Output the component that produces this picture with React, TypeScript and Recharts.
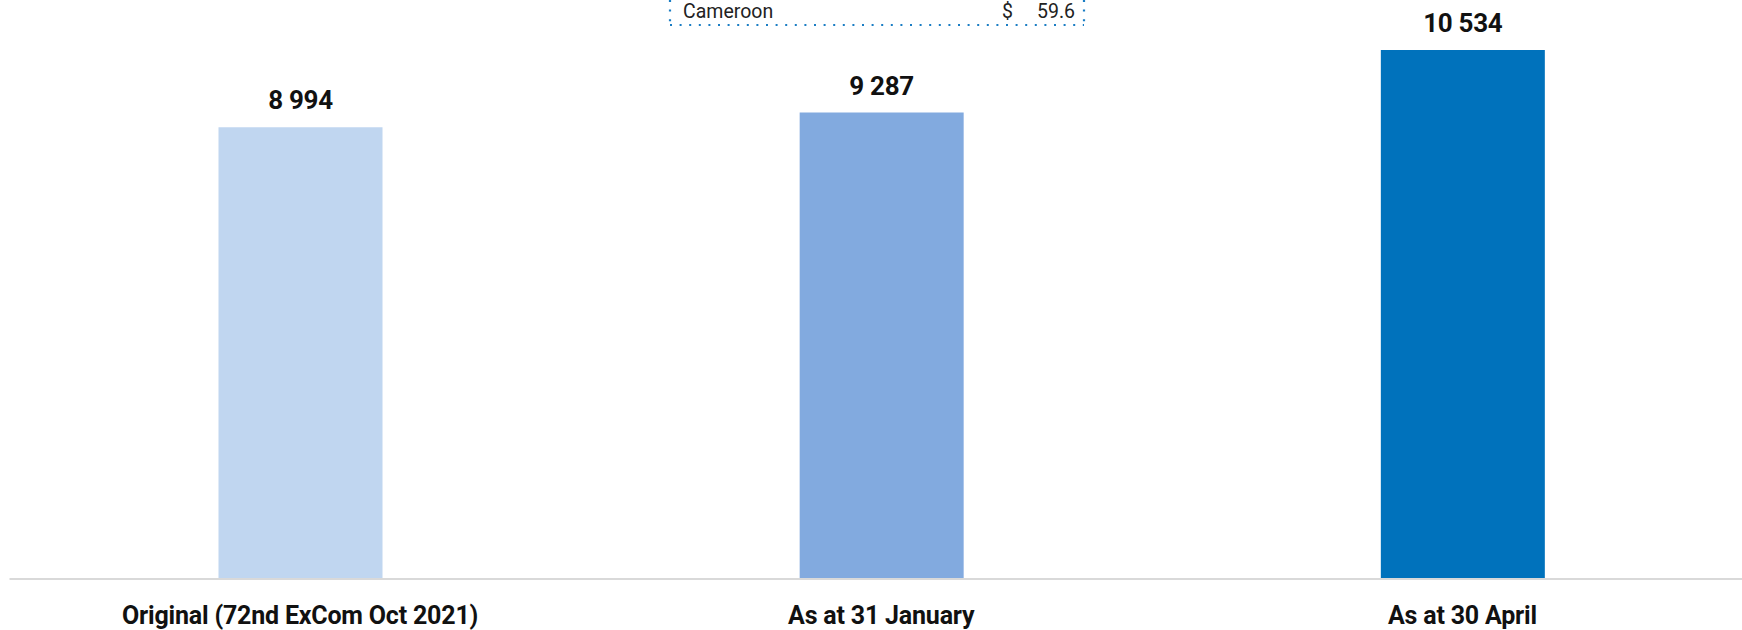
import React from "react";
import { BarChart, Bar, XAxis, YAxis, Cell, LabelList } from "recharts";

const categories = ["Original (72nd ExCom Oct 2021)", "As at 31 January", "As at 30 April"];
const budgetValues = [8994, 9287, 10534];
const barColors = ["#c0d6f0", "#82aadf", "#0072bc"];

const tableCountry = "Cameroon";
const tableAmount = "59.6";

const data = categories.map((name, i) => ({ name, value: budgetValues[i] }));

const formatSpaced = (v: number): string =>
  String(Math.round(v)).replace(/\B(?=(\d{3})+(?!\d))/g, " ");

const FONT = "Roboto, 'Liberation Sans', sans-serif";

const CategoryTick = (props: any) => {
  const { x, y, payload } = props;
  return (
    <text
      x={x}
      y={y + 45}
      textAnchor="middle"
      fontFamily={FONT}
      fontWeight={700}
      fontSize={25}
      letterSpacing={-0.2}
      fill="#111"
    >
      {payload.value}
    </text>
  );
};

const App: React.FC = () => {
  return (
    <div
      style={{
        position: "absolute",
        left: 0,
        top: 0,
        width: 1742,
        height: 630,
        overflow: "hidden",
        background: "#fff",
      }}
    >
      <BarChart
        width={1753}
        height={630}
        data={data}
        margin={{ top: 26.6, right: 0, bottom: 0, left: 9.5 }}
        barSize={164}
      >
        <XAxis
          dataKey="name"
          height={51}
          tickLine={false}
          tickSize={0}
          tickMargin={0}
          axisLine={{ stroke: "#d9d9d9", strokeWidth: 2 }}
          tick={<CategoryTick />}
          interval={0}
        />
        <YAxis hide domain={[0, 11000]} />
        <Bar dataKey="value" isAnimationActive={false}>
          {data.map((d, i) => (
            <Cell key={d.name} fill={barColors[i]} />
          ))}
          <LabelList
            dataKey="value"
            position="top"
            offset={18}
            formatter={(v: any) => formatSpaced(Number(v))}
            style={{ fontFamily: FONT, fontWeight: 700, fontSize: 26, fill: "#111", letterSpacing: -0.3 }}
          />
        </Bar>
      </BarChart>

      {/* cut-off table remnant at the top */}
      <svg
        width={1742}
        height={40}
        style={{ position: "absolute", left: 0, top: 0, pointerEvents: "none" }}
      >
        <g stroke="#1a7dc4" strokeWidth={2.2} strokeDasharray="2 7.6" fill="none">
          <line x1={670} y1={0} x2={670} y2={25} />
          <line x1={1084} y1={0} x2={1084} y2={25} />
          <line x1={670} y1={25} x2={1084} y2={25} />
        </g>
        <text x={683} y={18} fontFamily={FONT} fontSize={19.5} fill="#222">
          {tableCountry}
        </text>
        <text x={1002} y={18} fontFamily={FONT} fontSize={19.5} fill="#222">
          $
        </text>
        <text x={1075} y={18} textAnchor="end" fontFamily={FONT} fontSize={19.5} fill="#222">
          {tableAmount}
        </text>
      </svg>
    </div>
  );
};

export default App;
